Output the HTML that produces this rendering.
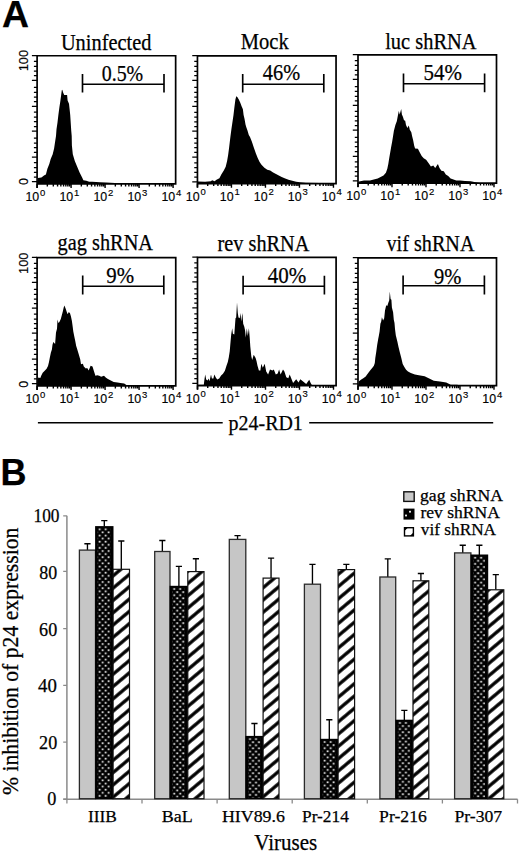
<!DOCTYPE html>
<html><head><meta charset="utf-8"><style>
html,body{margin:0;padding:0;background:#fff;}
svg{display:block;}
</style></head><body>
<svg width="520" height="852" viewBox="0 0 520 852">
<rect width="520" height="852" fill="#fff"/>
<text x="2.00" y="27.00" font-family="Liberation Sans" font-size="36" textLength="27.00" lengthAdjust="spacingAndGlyphs" font-weight="bold" stroke="#000" stroke-width="0.25" >A</text>
<text x="0.60" y="485.20" font-family="Liberation Sans" font-size="36" font-weight="bold" stroke="#000" stroke-width="0.25" >B</text>
<path d="M37.10 183.90 L37.60 181.00 L38.00 178.00 L41.40 177.50 L44.00 175.40 L45.90 174.50 L47.40 168.70 L49.30 163.90 L50.70 159.10 L52.70 154.30 L54.10 148.50 L55.10 141.80 L56.00 136.00 L56.50 129.30 L57.50 122.50 L58.40 114.80 L59.40 107.20 L60.30 101.40 L61.10 95.60 L61.80 90.30 L62.30 89.80 L63.20 92.70 L64.20 95.10 L67.10 95.10 L67.60 100.40 L69.00 103.80 L69.80 111.00 L70.20 114.80 L70.70 122.50 L71.20 130.20 L71.70 136.00 L71.90 145.60 L72.80 154.30 L74.80 161.00 L77.20 166.80 L79.60 172.50 L82.00 177.30 L83.40 180.20 L86.30 180.70 L89.20 181.70 L92.10 181.70 L100.00 182.20 L106.00 182.60 L115.00 183.00 L115.00 183.90 Z" fill="#000"/>
<path d="M37.10 187.90 L37.10 55.75 L175.65 55.75 L175.65 183.90 L37.10 183.90" fill="none" stroke="#000" stroke-width="1.7"/>
<path d="M31.90 55.50H37.10M33.90 61.40H37.10M33.90 66.30H37.10M33.90 71.20H37.10M33.90 75.60H37.10M31.90 80.30H37.10M33.90 87.40H37.10M33.90 92.30H37.10M33.90 97.10H37.10M33.90 101.60H37.10M31.90 106.25H37.10M33.90 112.20H37.10M33.90 117.10H37.10M33.90 121.70H37.10M33.90 126.50H37.10M31.90 131.05H37.10M33.90 138.20H37.10M33.90 143.00H37.10M33.90 147.50H37.10M33.90 152.40H37.10M31.90 157.10H37.10M33.90 162.70H37.10M33.90 167.60H37.10M33.90 172.40H37.10M33.90 177.00H37.10M31.90 181.70H37.10" stroke="#000" stroke-width="1.25"/>
<path d="M37.10 183.90V188.00M47.34 183.90V186.40M53.32 183.90V186.40M57.57 183.90V186.40M60.86 183.90V186.40M63.56 183.90V186.40M65.83 183.90V186.40M67.81 183.90V186.40M69.54 183.90V186.40M71.10 183.90V188.00M81.34 183.90V186.40M87.32 183.90V186.40M91.57 183.90V186.40M94.86 183.90V186.40M97.56 183.90V186.40M99.83 183.90V186.40M101.81 183.90V186.40M103.54 183.90V186.40M105.10 183.90V188.00M115.34 183.90V186.40M121.32 183.90V186.40M125.57 183.90V186.40M128.86 183.90V186.40M131.56 183.90V186.40M133.83 183.90V186.40M135.81 183.90V186.40M137.54 183.90V186.40M139.10 183.90V188.00M149.34 183.90V186.40M155.32 183.90V186.40M159.57 183.90V186.40M162.86 183.90V186.40M165.56 183.90V186.40M167.83 183.90V186.40M169.81 183.90V186.40M171.54 183.90V186.40M173.10 183.90V188.00" stroke="#000" stroke-width="1.4"/>
<text x="25.40" y="201.20" font-family="Liberation Sans" font-size="12.4" stroke="#000" stroke-width="0.15">10</text>
<text x="40.10" y="195.70" font-family="Liberation Sans" font-size="9.5" stroke="#000" stroke-width="0.15">0</text>
<text x="59.40" y="201.20" font-family="Liberation Sans" font-size="12.4" stroke="#000" stroke-width="0.15">10</text>
<text x="74.10" y="195.70" font-family="Liberation Sans" font-size="9.5" stroke="#000" stroke-width="0.15">1</text>
<text x="93.40" y="201.20" font-family="Liberation Sans" font-size="12.4" stroke="#000" stroke-width="0.15">10</text>
<text x="108.10" y="195.70" font-family="Liberation Sans" font-size="9.5" stroke="#000" stroke-width="0.15">2</text>
<text x="127.40" y="201.20" font-family="Liberation Sans" font-size="12.4" stroke="#000" stroke-width="0.15">10</text>
<text x="142.10" y="195.70" font-family="Liberation Sans" font-size="9.5" stroke="#000" stroke-width="0.15">3</text>
<text x="161.40" y="201.20" font-family="Liberation Sans" font-size="12.4" stroke="#000" stroke-width="0.15">10</text>
<text x="176.10" y="195.70" font-family="Liberation Sans" font-size="9.5" stroke="#000" stroke-width="0.15">4</text>
<text transform="translate(27.6,71.20) rotate(-90)" font-family="Liberation Sans" font-size="12.4" textLength="21.2" lengthAdjust="spacingAndGlyphs" stroke="#000" stroke-width="0.15">100</text>
<text transform="translate(27.5,185.10) rotate(-90)" font-family="Liberation Sans" font-size="12.4" stroke="#000" stroke-width="0.15">0</text>
<text x="60.90" y="49.60" font-family="Liberation Serif" font-size="22.6" textLength="90.50" lengthAdjust="spacingAndGlyphs" stroke="#000" stroke-width="0.25" >Uninfected</text>
<text x="101.70" y="80.60" font-family="Liberation Serif" font-size="23.2" textLength="41.50" lengthAdjust="spacingAndGlyphs" stroke="#000" stroke-width="0.25" >0.5%</text>
<path d="M82.5 84.3H164.0" stroke="#000" stroke-width="1.45" fill="none"/><path d="M82.5 74.0V92.5M164.0 74.0V92.5" stroke="#000" stroke-width="1.65" fill="none"/>
<path d="M197.45 183.60 L198.00 181.40 L205.00 181.70 L210.80 181.20 L212.20 180.20 L214.60 181.20 L216.50 179.80 L219.40 178.30 L221.30 174.50 L223.80 170.60 L225.70 166.80 L227.10 161.00 L228.10 155.20 L229.00 148.50 L229.80 141.80 L230.50 136.00 L231.50 128.40 L232.50 121.70 L233.50 114.90 L234.40 107.20 L235.40 99.50 L236.30 96.20 L237.30 97.10 L238.80 99.50 L240.20 102.40 L241.60 106.30 L242.90 109.20 L243.60 114.90 L244.50 118.80 L245.50 124.50 L246.40 127.40 L247.40 130.30 L248.80 135.10 L250.00 137.00 L251.90 141.80 L253.80 147.50 L255.80 153.30 L257.70 158.10 L259.60 162.00 L261.50 164.80 L264.40 167.70 L267.30 169.70 L270.20 170.60 L273.10 172.50 L276.00 174.00 L278.80 175.40 L281.70 176.90 L284.60 178.30 L288.50 179.80 L292.30 180.70 L296.20 181.70 L300.00 182.20 L306.00 182.70 L320.00 183.00 L320.00 183.60 Z" fill="#000"/>
<path d="M197.45 187.60 L197.45 55.80 L336.05 55.80 L336.05 183.60 L197.45 183.60" fill="none" stroke="#000" stroke-width="1.7"/>
<path d="M192.25 55.55H197.45M194.25 61.45H197.45M194.25 66.35H197.45M194.25 71.25H197.45M194.25 75.65H197.45M192.25 80.35H197.45M194.25 87.45H197.45M194.25 92.35H197.45M194.25 97.15H197.45M194.25 101.65H197.45M192.25 106.30H197.45M194.25 112.25H197.45M194.25 117.15H197.45M194.25 121.75H197.45M194.25 126.55H197.45M192.25 131.10H197.45M194.25 138.25H197.45M194.25 143.05H197.45M194.25 147.55H197.45M194.25 152.45H197.45M192.25 157.15H197.45M194.25 162.75H197.45M194.25 167.65H197.45M194.25 172.45H197.45M194.25 177.05H197.45M192.25 181.75H197.45" stroke="#000" stroke-width="1.25"/>
<path d="M197.45 183.60V187.70M207.69 183.60V186.10M213.67 183.60V186.10M217.92 183.60V186.10M221.21 183.60V186.10M223.91 183.60V186.10M226.18 183.60V186.10M228.16 183.60V186.10M229.89 183.60V186.10M231.45 183.60V187.70M241.69 183.60V186.10M247.67 183.60V186.10M251.92 183.60V186.10M255.21 183.60V186.10M257.91 183.60V186.10M260.18 183.60V186.10M262.16 183.60V186.10M263.89 183.60V186.10M265.45 183.60V187.70M275.69 183.60V186.10M281.67 183.60V186.10M285.92 183.60V186.10M289.21 183.60V186.10M291.91 183.60V186.10M294.18 183.60V186.10M296.16 183.60V186.10M297.89 183.60V186.10M299.45 183.60V187.70M309.69 183.60V186.10M315.67 183.60V186.10M319.92 183.60V186.10M323.21 183.60V186.10M325.91 183.60V186.10M328.18 183.60V186.10M330.16 183.60V186.10M331.89 183.60V186.10M333.45 183.60V187.70" stroke="#000" stroke-width="1.4"/>
<text x="185.75" y="200.90" font-family="Liberation Sans" font-size="12.4" stroke="#000" stroke-width="0.15">10</text>
<text x="200.45" y="195.40" font-family="Liberation Sans" font-size="9.5" stroke="#000" stroke-width="0.15">0</text>
<text x="219.75" y="200.90" font-family="Liberation Sans" font-size="12.4" stroke="#000" stroke-width="0.15">10</text>
<text x="234.45" y="195.40" font-family="Liberation Sans" font-size="9.5" stroke="#000" stroke-width="0.15">1</text>
<text x="253.75" y="200.90" font-family="Liberation Sans" font-size="12.4" stroke="#000" stroke-width="0.15">10</text>
<text x="268.45" y="195.40" font-family="Liberation Sans" font-size="9.5" stroke="#000" stroke-width="0.15">2</text>
<text x="287.75" y="200.90" font-family="Liberation Sans" font-size="12.4" stroke="#000" stroke-width="0.15">10</text>
<text x="302.45" y="195.40" font-family="Liberation Sans" font-size="9.5" stroke="#000" stroke-width="0.15">3</text>
<text x="321.75" y="200.90" font-family="Liberation Sans" font-size="12.4" stroke="#000" stroke-width="0.15">10</text>
<text x="336.45" y="195.40" font-family="Liberation Sans" font-size="9.5" stroke="#000" stroke-width="0.15">4</text>
<text x="240.80" y="49.00" font-family="Liberation Serif" font-size="22.6" textLength="47.90" lengthAdjust="spacingAndGlyphs" stroke="#000" stroke-width="0.25" >Mock</text>
<text x="262.80" y="80.00" font-family="Liberation Serif" font-size="23.2" textLength="37.30" lengthAdjust="spacingAndGlyphs" stroke="#000" stroke-width="0.25" >46%</text>
<path d="M242.7 84.3H323.8" stroke="#000" stroke-width="1.45" fill="none"/><path d="M242.7 74.0V92.5M323.8 74.0V92.5" stroke="#000" stroke-width="1.65" fill="none"/>
<path d="M358.00 183.10 L359.00 181.50 L364.00 180.60 L370.00 180.40 L373.80 179.40 L377.70 178.50 L380.60 177.00 L383.50 175.60 L385.90 172.70 L387.30 168.80 L388.30 164.00 L389.20 158.30 L390.20 152.50 L391.20 146.70 L392.10 141.90 L393.00 136.50 L393.90 130.80 L395.40 125.00 L396.80 121.20 L397.80 115.90 L398.80 111.10 L399.70 114.40 L401.20 109.10 L401.90 114.40 L402.90 116.80 L404.00 120.20 L405.20 120.70 L406.00 125.00 L407.40 127.90 L408.80 125.50 L409.80 129.80 L411.30 132.20 L412.20 136.50 L413.20 140.40 L414.20 145.80 L415.10 148.40 L417.90 148.70 L419.80 152.50 L421.70 155.90 L423.70 158.30 L426.10 159.70 L428.50 163.10 L430.90 166.40 L433.30 165.50 L435.20 167.90 L437.90 164.00 L439.50 167.90 L441.40 170.80 L443.80 171.30 L445.80 174.60 L448.20 176.10 L450.60 178.50 L453.50 179.40 L456.30 180.40 L460.20 180.40 L465.00 180.90 L470.80 181.20 L475.40 182.20 L480.00 183.00 L480.00 183.10 Z" fill="#000"/>
<path d="M358.00 187.10 L358.00 54.90 L496.50 54.90 L496.50 183.10 L358.00 183.10" fill="none" stroke="#000" stroke-width="1.7"/>
<path d="M352.80 54.65H358.00M354.80 60.55H358.00M354.80 65.45H358.00M354.80 70.35H358.00M354.80 74.75H358.00M352.80 79.45H358.00M354.80 86.55H358.00M354.80 91.45H358.00M354.80 96.25H358.00M354.80 100.75H358.00M352.80 105.40H358.00M354.80 111.35H358.00M354.80 116.25H358.00M354.80 120.85H358.00M354.80 125.65H358.00M352.80 130.20H358.00M354.80 137.35H358.00M354.80 142.15H358.00M354.80 146.65H358.00M354.80 151.55H358.00M352.80 156.25H358.00M354.80 161.85H358.00M354.80 166.75H358.00M354.80 171.55H358.00M354.80 176.15H358.00M352.80 180.85H358.00" stroke="#000" stroke-width="1.25"/>
<path d="M358.00 183.10V187.20M368.24 183.10V185.60M374.22 183.10V185.60M378.47 183.10V185.60M381.76 183.10V185.60M384.46 183.10V185.60M386.73 183.10V185.60M388.71 183.10V185.60M390.44 183.10V185.60M392.00 183.10V187.20M402.24 183.10V185.60M408.22 183.10V185.60M412.47 183.10V185.60M415.76 183.10V185.60M418.46 183.10V185.60M420.73 183.10V185.60M422.71 183.10V185.60M424.44 183.10V185.60M426.00 183.10V187.20M436.24 183.10V185.60M442.22 183.10V185.60M446.47 183.10V185.60M449.76 183.10V185.60M452.46 183.10V185.60M454.73 183.10V185.60M456.71 183.10V185.60M458.44 183.10V185.60M460.00 183.10V187.20M470.24 183.10V185.60M476.22 183.10V185.60M480.47 183.10V185.60M483.76 183.10V185.60M486.46 183.10V185.60M488.73 183.10V185.60M490.71 183.10V185.60M492.44 183.10V185.60M494.00 183.10V187.20" stroke="#000" stroke-width="1.4"/>
<text x="346.30" y="200.40" font-family="Liberation Sans" font-size="12.4" stroke="#000" stroke-width="0.15">10</text>
<text x="361.00" y="194.90" font-family="Liberation Sans" font-size="9.5" stroke="#000" stroke-width="0.15">0</text>
<text x="380.30" y="200.40" font-family="Liberation Sans" font-size="12.4" stroke="#000" stroke-width="0.15">10</text>
<text x="395.00" y="194.90" font-family="Liberation Sans" font-size="9.5" stroke="#000" stroke-width="0.15">1</text>
<text x="414.30" y="200.40" font-family="Liberation Sans" font-size="12.4" stroke="#000" stroke-width="0.15">10</text>
<text x="429.00" y="194.90" font-family="Liberation Sans" font-size="9.5" stroke="#000" stroke-width="0.15">2</text>
<text x="448.30" y="200.40" font-family="Liberation Sans" font-size="12.4" stroke="#000" stroke-width="0.15">10</text>
<text x="463.00" y="194.90" font-family="Liberation Sans" font-size="9.5" stroke="#000" stroke-width="0.15">3</text>
<text x="482.30" y="200.40" font-family="Liberation Sans" font-size="12.4" stroke="#000" stroke-width="0.15">10</text>
<text x="497.00" y="194.90" font-family="Liberation Sans" font-size="9.5" stroke="#000" stroke-width="0.15">4</text>
<text x="385.20" y="49.40" font-family="Liberation Serif" font-size="22.6" textLength="91.30" lengthAdjust="spacingAndGlyphs" stroke="#000" stroke-width="0.25" >luc shRNA</text>
<text x="423.60" y="80.20" font-family="Liberation Serif" font-size="23.2" textLength="38.40" lengthAdjust="spacingAndGlyphs" stroke="#000" stroke-width="0.25" >54%</text>
<path d="M403.5 83.8H484.6" stroke="#000" stroke-width="1.45" fill="none"/><path d="M403.5 73.6V92.3M484.6 73.6V92.3" stroke="#000" stroke-width="1.65" fill="none"/>
<path d="M37.10 385.90 L38.00 378.50 L38.40 377.50 L40.30 378.00 L41.30 375.60 L42.70 372.70 L44.70 370.80 L46.60 368.80 L48.00 366.00 L49.00 362.10 L49.90 357.30 L50.90 352.50 L51.90 349.60 L52.50 344.80 L53.30 341.90 L53.60 342.20 L55.10 344.10 L56.00 332.50 L57.00 328.70 L57.50 319.60 L58.40 322.90 L59.40 322.00 L60.80 319.10 L61.80 315.20 L62.80 311.40 L63.70 307.50 L64.40 305.60 L65.60 308.50 L66.60 311.40 L67.60 314.30 L68.80 311.90 L70.00 313.30 L70.90 316.20 L71.90 321.00 L72.70 326.80 L73.30 331.60 L74.30 336.40 L75.30 341.20 L76.20 346.00 L77.30 349.60 L78.80 354.40 L80.20 359.20 L81.00 364.20 L82.90 363.80 L83.80 366.60 L85.80 368.60 L87.20 368.10 L88.70 370.50 L90.60 365.70 L92.50 366.60 L93.90 371.00 L95.40 375.80 L97.30 375.30 L99.20 375.80 L101.20 376.70 L104.00 375.80 L106.00 377.70 L107.90 379.10 L110.80 380.60 L113.70 382.00 L117.50 382.50 L120.40 383.00 L124.20 383.50 L127.10 385.40 L127.10 385.90 Z" fill="#000"/>
<path d="M37.10 389.90 L37.10 257.70 L175.75 257.70 L175.75 385.90 L37.10 385.90" fill="none" stroke="#000" stroke-width="1.7"/>
<path d="M31.90 257.45H37.10M33.90 263.35H37.10M33.90 268.25H37.10M33.90 273.15H37.10M33.90 277.55H37.10M31.90 282.25H37.10M33.90 289.35H37.10M33.90 294.25H37.10M33.90 299.05H37.10M33.90 303.55H37.10M31.90 308.20H37.10M33.90 314.15H37.10M33.90 319.05H37.10M33.90 323.65H37.10M33.90 328.45H37.10M31.90 333.00H37.10M33.90 340.15H37.10M33.90 344.95H37.10M33.90 349.45H37.10M33.90 354.35H37.10M31.90 359.05H37.10M33.90 364.65H37.10M33.90 369.55H37.10M33.90 374.35H37.10M33.90 378.95H37.10M31.90 383.65H37.10" stroke="#000" stroke-width="1.25"/>
<path d="M37.10 385.90V390.00M47.34 385.90V388.40M53.32 385.90V388.40M57.57 385.90V388.40M60.86 385.90V388.40M63.56 385.90V388.40M65.83 385.90V388.40M67.81 385.90V388.40M69.54 385.90V388.40M71.10 385.90V390.00M81.34 385.90V388.40M87.32 385.90V388.40M91.57 385.90V388.40M94.86 385.90V388.40M97.56 385.90V388.40M99.83 385.90V388.40M101.81 385.90V388.40M103.54 385.90V388.40M105.10 385.90V390.00M115.34 385.90V388.40M121.32 385.90V388.40M125.57 385.90V388.40M128.86 385.90V388.40M131.56 385.90V388.40M133.83 385.90V388.40M135.81 385.90V388.40M137.54 385.90V388.40M139.10 385.90V390.00M149.34 385.90V388.40M155.32 385.90V388.40M159.57 385.90V388.40M162.86 385.90V388.40M165.56 385.90V388.40M167.83 385.90V388.40M169.81 385.90V388.40M171.54 385.90V388.40M173.10 385.90V390.00" stroke="#000" stroke-width="1.4"/>
<text x="25.40" y="403.20" font-family="Liberation Sans" font-size="12.4" stroke="#000" stroke-width="0.15">10</text>
<text x="40.10" y="397.70" font-family="Liberation Sans" font-size="9.5" stroke="#000" stroke-width="0.15">0</text>
<text x="59.40" y="403.20" font-family="Liberation Sans" font-size="12.4" stroke="#000" stroke-width="0.15">10</text>
<text x="74.10" y="397.70" font-family="Liberation Sans" font-size="9.5" stroke="#000" stroke-width="0.15">1</text>
<text x="93.40" y="403.20" font-family="Liberation Sans" font-size="12.4" stroke="#000" stroke-width="0.15">10</text>
<text x="108.10" y="397.70" font-family="Liberation Sans" font-size="9.5" stroke="#000" stroke-width="0.15">2</text>
<text x="127.40" y="403.20" font-family="Liberation Sans" font-size="12.4" stroke="#000" stroke-width="0.15">10</text>
<text x="142.10" y="397.70" font-family="Liberation Sans" font-size="9.5" stroke="#000" stroke-width="0.15">3</text>
<text x="161.40" y="403.20" font-family="Liberation Sans" font-size="12.4" stroke="#000" stroke-width="0.15">10</text>
<text x="176.10" y="397.70" font-family="Liberation Sans" font-size="9.5" stroke="#000" stroke-width="0.15">4</text>
<text transform="translate(27.6,273.90) rotate(-90)" font-family="Liberation Sans" font-size="12.4" textLength="21.2" lengthAdjust="spacingAndGlyphs" stroke="#000" stroke-width="0.15">100</text>
<text transform="translate(27.5,387.80) rotate(-90)" font-family="Liberation Sans" font-size="12.4" stroke="#000" stroke-width="0.15">0</text>
<text x="57.60" y="250.40" font-family="Liberation Serif" font-size="22.6" textLength="95.40" lengthAdjust="spacingAndGlyphs" stroke="#000" stroke-width="0.25" >gag shRNA</text>
<text x="106.30" y="283.40" font-family="Liberation Serif" font-size="23.2" textLength="27.80" lengthAdjust="spacingAndGlyphs" stroke="#000" stroke-width="0.25" >9%</text>
<path d="M82.7 286.2H163.8" stroke="#000" stroke-width="1.45" fill="none"/><path d="M82.7 275.6V294.6M163.8 275.6V294.6" stroke="#000" stroke-width="1.65" fill="none"/>
<path d="M197.50 385.60 L198.00 384.70 L203.80 384.70 L204.30 380.40 L205.20 374.60 L206.20 379.40 L207.60 380.40 L208.60 378.50 L209.50 381.30 L211.00 374.60 L211.90 378.50 L213.40 378.50 L214.30 374.60 L215.80 377.50 L217.20 379.40 L219.20 378.50 L221.10 375.60 L223.00 373.70 L224.90 370.80 L226.40 366.00 L227.80 362.10 L228.80 357.30 L229.70 351.50 L230.20 345.80 L230.50 342.20 L231.20 334.50 L232.20 328.30 L232.90 333.70 L234.30 334.50 L235.50 318.30 L236.20 317.50 L237.00 302.50 L237.80 312.90 L238.50 317.50 L239.70 318.30 L240.50 312.90 L241.20 321.40 L242.40 312.90 L243.20 323.70 L244.30 326.80 L245.10 330.60 L245.80 337.50 L246.80 328.30 L247.80 336.00 L248.90 328.30 L249.70 337.50 L250.30 346.50 L251.30 356.20 L252.20 360.00 L253.70 354.70 L254.60 356.20 L255.60 358.10 L256.50 361.00 L257.50 365.80 L258.90 370.60 L260.40 370.60 L261.30 363.80 L262.80 367.70 L264.70 363.80 L266.20 371.50 L268.10 374.40 L270.00 369.60 L272.40 370.60 L273.80 369.60 L275.80 374.40 L277.70 373.50 L279.10 369.60 L280.60 374.40 L283.00 369.60 L284.40 371.50 L286.30 377.30 L288.30 378.30 L289.70 374.40 L291.20 378.30 L293.10 383.10 L296.20 379.30 L298.50 382.40 L300.30 379.30 L303.10 381.60 L306.20 383.90 L309.20 379.80 L310.80 383.20 L312.00 385.20 L312.00 385.60 Z" fill="#000"/>
<path d="M197.50 389.60 L197.50 257.30 L336.10 257.30 L336.10 385.60 L197.50 385.60" fill="none" stroke="#000" stroke-width="1.7"/>
<path d="M192.30 257.05H197.50M194.30 262.95H197.50M194.30 267.85H197.50M194.30 272.75H197.50M194.30 277.15H197.50M192.30 281.85H197.50M194.30 288.95H197.50M194.30 293.85H197.50M194.30 298.65H197.50M194.30 303.15H197.50M192.30 307.80H197.50M194.30 313.75H197.50M194.30 318.65H197.50M194.30 323.25H197.50M194.30 328.05H197.50M192.30 332.60H197.50M194.30 339.75H197.50M194.30 344.55H197.50M194.30 349.05H197.50M194.30 353.95H197.50M192.30 358.65H197.50M194.30 364.25H197.50M194.30 369.15H197.50M194.30 373.95H197.50M194.30 378.55H197.50M192.30 383.25H197.50" stroke="#000" stroke-width="1.25"/>
<path d="M197.50 385.60V389.70M207.74 385.60V388.10M213.72 385.60V388.10M217.97 385.60V388.10M221.26 385.60V388.10M223.96 385.60V388.10M226.23 385.60V388.10M228.21 385.60V388.10M229.94 385.60V388.10M231.50 385.60V389.70M241.74 385.60V388.10M247.72 385.60V388.10M251.97 385.60V388.10M255.26 385.60V388.10M257.96 385.60V388.10M260.23 385.60V388.10M262.21 385.60V388.10M263.94 385.60V388.10M265.50 385.60V389.70M275.74 385.60V388.10M281.72 385.60V388.10M285.97 385.60V388.10M289.26 385.60V388.10M291.96 385.60V388.10M294.23 385.60V388.10M296.21 385.60V388.10M297.94 385.60V388.10M299.50 385.60V389.70M309.74 385.60V388.10M315.72 385.60V388.10M319.97 385.60V388.10M323.26 385.60V388.10M325.96 385.60V388.10M328.23 385.60V388.10M330.21 385.60V388.10M331.94 385.60V388.10M333.50 385.60V389.70" stroke="#000" stroke-width="1.4"/>
<text x="185.80" y="402.90" font-family="Liberation Sans" font-size="12.4" stroke="#000" stroke-width="0.15">10</text>
<text x="200.50" y="397.40" font-family="Liberation Sans" font-size="9.5" stroke="#000" stroke-width="0.15">0</text>
<text x="219.80" y="402.90" font-family="Liberation Sans" font-size="12.4" stroke="#000" stroke-width="0.15">10</text>
<text x="234.50" y="397.40" font-family="Liberation Sans" font-size="9.5" stroke="#000" stroke-width="0.15">1</text>
<text x="253.80" y="402.90" font-family="Liberation Sans" font-size="12.4" stroke="#000" stroke-width="0.15">10</text>
<text x="268.50" y="397.40" font-family="Liberation Sans" font-size="9.5" stroke="#000" stroke-width="0.15">2</text>
<text x="287.80" y="402.90" font-family="Liberation Sans" font-size="12.4" stroke="#000" stroke-width="0.15">10</text>
<text x="302.50" y="397.40" font-family="Liberation Sans" font-size="9.5" stroke="#000" stroke-width="0.15">3</text>
<text x="321.80" y="402.90" font-family="Liberation Sans" font-size="12.4" stroke="#000" stroke-width="0.15">10</text>
<text x="336.50" y="397.40" font-family="Liberation Sans" font-size="9.5" stroke="#000" stroke-width="0.15">4</text>
<text x="217.60" y="250.60" font-family="Liberation Serif" font-size="22.6" textLength="91.80" lengthAdjust="spacingAndGlyphs" stroke="#000" stroke-width="0.25" >rev shRNA</text>
<text x="267.70" y="283.20" font-family="Liberation Serif" font-size="23.2" textLength="38.50" lengthAdjust="spacingAndGlyphs" stroke="#000" stroke-width="0.25" >40%</text>
<path d="M243.1 286.2H324.4" stroke="#000" stroke-width="1.45" fill="none"/><path d="M243.1 275.8V294.6M324.4 275.8V294.6" stroke="#000" stroke-width="1.65" fill="none"/>
<path d="M358.00 385.70 L359.00 381.20 L360.90 379.80 L363.30 378.30 L365.70 376.40 L367.10 374.50 L368.60 372.50 L370.50 370.10 L372.40 367.70 L373.90 365.80 L374.80 362.90 L375.30 358.10 L376.30 351.40 L377.20 344.70 L378.20 338.90 L378.80 336.00 L379.60 331.40 L380.40 323.70 L381.20 321.40 L381.90 317.20 L383.10 320.60 L384.20 318.30 L385.00 310.60 L386.20 305.20 L387.30 306.00 L388.50 302.20 L389.20 300.60 L389.80 291.40 L390.60 299.10 L391.40 299.80 L391.90 307.50 L393.10 312.20 L393.80 319.80 L394.50 322.90 L395.00 329.10 L395.80 335.20 L397.40 341.80 L398.40 346.60 L399.80 352.30 L401.30 358.10 L402.70 363.90 L404.20 366.80 L406.10 369.70 L408.00 371.60 L410.80 373.10 L414.90 374.50 L418.90 375.20 L424.60 376.20 L429.20 378.50 L433.80 380.80 L440.00 381.60 L446.20 382.40 L450.80 384.70 L456.90 384.70 L460.00 385.20 L460.00 385.70 Z" fill="#000"/>
<path d="M358.00 389.70 L358.00 257.80 L496.50 257.80 L496.50 385.70 L358.00 385.70" fill="none" stroke="#000" stroke-width="1.7"/>
<path d="M352.80 257.55H358.00M354.80 263.45H358.00M354.80 268.35H358.00M354.80 273.25H358.00M354.80 277.65H358.00M352.80 282.35H358.00M354.80 289.45H358.00M354.80 294.35H358.00M354.80 299.15H358.00M354.80 303.65H358.00M352.80 308.30H358.00M354.80 314.25H358.00M354.80 319.15H358.00M354.80 323.75H358.00M354.80 328.55H358.00M352.80 333.10H358.00M354.80 340.25H358.00M354.80 345.05H358.00M354.80 349.55H358.00M354.80 354.45H358.00M352.80 359.15H358.00M354.80 364.75H358.00M354.80 369.65H358.00M354.80 374.45H358.00M354.80 379.05H358.00M352.80 383.75H358.00" stroke="#000" stroke-width="1.25"/>
<path d="M358.00 385.70V389.80M368.24 385.70V388.20M374.22 385.70V388.20M378.47 385.70V388.20M381.76 385.70V388.20M384.46 385.70V388.20M386.73 385.70V388.20M388.71 385.70V388.20M390.44 385.70V388.20M392.00 385.70V389.80M402.24 385.70V388.20M408.22 385.70V388.20M412.47 385.70V388.20M415.76 385.70V388.20M418.46 385.70V388.20M420.73 385.70V388.20M422.71 385.70V388.20M424.44 385.70V388.20M426.00 385.70V389.80M436.24 385.70V388.20M442.22 385.70V388.20M446.47 385.70V388.20M449.76 385.70V388.20M452.46 385.70V388.20M454.73 385.70V388.20M456.71 385.70V388.20M458.44 385.70V388.20M460.00 385.70V389.80M470.24 385.70V388.20M476.22 385.70V388.20M480.47 385.70V388.20M483.76 385.70V388.20M486.46 385.70V388.20M488.73 385.70V388.20M490.71 385.70V388.20M492.44 385.70V388.20M494.00 385.70V389.80" stroke="#000" stroke-width="1.4"/>
<text x="346.30" y="403.00" font-family="Liberation Sans" font-size="12.4" stroke="#000" stroke-width="0.15">10</text>
<text x="361.00" y="397.50" font-family="Liberation Sans" font-size="9.5" stroke="#000" stroke-width="0.15">0</text>
<text x="380.30" y="403.00" font-family="Liberation Sans" font-size="12.4" stroke="#000" stroke-width="0.15">10</text>
<text x="395.00" y="397.50" font-family="Liberation Sans" font-size="9.5" stroke="#000" stroke-width="0.15">1</text>
<text x="414.30" y="403.00" font-family="Liberation Sans" font-size="12.4" stroke="#000" stroke-width="0.15">10</text>
<text x="429.00" y="397.50" font-family="Liberation Sans" font-size="9.5" stroke="#000" stroke-width="0.15">2</text>
<text x="448.30" y="403.00" font-family="Liberation Sans" font-size="12.4" stroke="#000" stroke-width="0.15">10</text>
<text x="463.00" y="397.50" font-family="Liberation Sans" font-size="9.5" stroke="#000" stroke-width="0.15">3</text>
<text x="482.30" y="403.00" font-family="Liberation Sans" font-size="12.4" stroke="#000" stroke-width="0.15">10</text>
<text x="497.00" y="397.50" font-family="Liberation Sans" font-size="9.5" stroke="#000" stroke-width="0.15">4</text>
<text x="386.50" y="250.60" font-family="Liberation Serif" font-size="22.6" textLength="88.00" lengthAdjust="spacingAndGlyphs" stroke="#000" stroke-width="0.25" >vif shRNA</text>
<text x="434.00" y="283.50" font-family="Liberation Serif" font-size="23.2" textLength="27.40" lengthAdjust="spacingAndGlyphs" stroke="#000" stroke-width="0.25" >9%</text>
<path d="M403.1 285.8H484.4" stroke="#000" stroke-width="1.45" fill="none"/><path d="M403.1 275.6V294.6M484.4 275.6V294.6" stroke="#000" stroke-width="1.65" fill="none"/>
<path d="M37.9 422.7H222.7M309.2 422.7H493.2" stroke="#000" stroke-width="1.4"/>
<text x="228.60" y="430.00" font-family="Liberation Serif" font-size="22" textLength="74.20" lengthAdjust="spacingAndGlyphs" stroke="#000" stroke-width="0.25" >p24-RD1</text>
<path d="M66.9 515.8V799.2M63.3 799.2H517.6" stroke="#8a8a8a" stroke-width="1.5" fill="none"/>
<path d="M63.2 799.20H66.9M63.2 742.10H66.9M63.2 685.40H66.9M63.2 628.70H66.9M63.2 571.40H66.9M63.2 515.80H66.9M66.90 799.2V803.4M142.00 799.2V803.4M217.10 799.2V803.4M292.20 799.2V803.4M367.30 799.2V803.4M442.40 799.2V803.4M517.50 799.2V803.4" stroke="#8a8a8a" stroke-width="1.3"/>
<text x="33.50" y="522.10" font-family="Liberation Serif" font-size="18.5" textLength="26.00" lengthAdjust="spacingAndGlyphs" stroke="#000" stroke-width="0.25" >100</text>
<text x="39.30" y="578.60" font-family="Liberation Serif" font-size="18.5" textLength="17.90" lengthAdjust="spacingAndGlyphs" stroke="#000" stroke-width="0.25" >80</text>
<text x="39.10" y="636.30" font-family="Liberation Serif" font-size="18.5" textLength="18.10" lengthAdjust="spacingAndGlyphs" stroke="#000" stroke-width="0.25" >60</text>
<text x="38.00" y="692.10" font-family="Liberation Serif" font-size="18.5" textLength="18.80" lengthAdjust="spacingAndGlyphs" stroke="#000" stroke-width="0.25" >40</text>
<text x="39.10" y="748.60" font-family="Liberation Serif" font-size="18.5" textLength="18.10" lengthAdjust="spacingAndGlyphs" stroke="#000" stroke-width="0.25" >20</text>
<text x="47.20" y="805.40" font-family="Liberation Serif" font-size="18.5" textLength="9.10" lengthAdjust="spacingAndGlyphs" stroke="#000" stroke-width="0.25" >0</text>
<path d="M87.45 550.10V543.70M84.35 543.70H90.55" stroke="#000" stroke-width="1.35"/>
<path d="M104.30 526.60V520.60M101.20 520.60H107.40" stroke="#000" stroke-width="1.35"/>
<path d="M121.30 569.30V541.00M118.20 541.00H124.40" stroke="#000" stroke-width="1.35"/>
<defs><pattern id="dIIIB" patternUnits="userSpaceOnUse" width="6.0" height="6.2" x="98.25" y="527.75"><rect width="6.0" height="6.2" fill="#000"/><rect x="0.6" y="0.7" width="1.7" height="1.7" fill="#fff"/><rect x="3.6" y="3.8" width="1.7" height="1.7" fill="#fff"/></pattern><pattern id="hIIIB" patternUnits="userSpaceOnUse" width="9.42" height="9.42" patternTransform="translate(113.10,575.80) rotate(-40)"><rect width="9.42" height="9.42" fill="#fff"/><rect y="0" width="9.42" height="1.65" fill="#000"/><rect y="7.77" width="9.42" height="1.65" fill="#000"/></pattern></defs>
<rect x="79.40" y="550.10" width="16.10" height="248.60" fill="#c6c6c6" stroke="#2a2a2a" stroke-width="1.3"/>
<rect x="95.10" y="526.10" width="18.40" height="273.10" fill="#000"/>
<rect x="97.70" y="528.00" width="12.60" height="269.50" fill="url(#dIIIB)"/>
<rect x="113.10" y="569.30" width="16.40" height="229.40" fill="url(#hIIIB)" stroke="#111" stroke-width="1.2"/>
<path d="M162.35 551.50V540.50M159.25 540.50H165.45" stroke="#000" stroke-width="1.35"/>
<path d="M178.90 586.30V566.40M175.80 566.40H182.00" stroke="#000" stroke-width="1.35"/>
<path d="M195.90 571.60V558.70M192.80 558.70H199.00" stroke="#000" stroke-width="1.35"/>
<defs><pattern id="dBaL" patternUnits="userSpaceOnUse" width="6.0" height="6.2" x="172.75" y="587.45"><rect width="6.0" height="6.2" fill="#000"/><rect x="0.6" y="0.7" width="1.7" height="1.7" fill="#fff"/><rect x="3.6" y="3.8" width="1.7" height="1.7" fill="#fff"/></pattern><pattern id="hBaL" patternUnits="userSpaceOnUse" width="9.42" height="9.42" patternTransform="translate(187.80,583.50) rotate(-40)"><rect width="9.42" height="9.42" fill="#fff"/><rect y="0" width="9.42" height="1.65" fill="#000"/><rect y="7.77" width="9.42" height="1.65" fill="#000"/></pattern></defs>
<rect x="154.70" y="551.50" width="15.30" height="247.20" fill="#c6c6c6" stroke="#2a2a2a" stroke-width="1.3"/>
<rect x="169.60" y="585.80" width="18.60" height="213.40" fill="#000"/>
<rect x="172.20" y="587.70" width="12.80" height="209.80" fill="url(#dBaL)"/>
<rect x="187.80" y="571.60" width="16.20" height="227.10" fill="url(#hBaL)" stroke="#111" stroke-width="1.2"/>
<path d="M237.55 539.40V535.60M234.45 535.60H240.65" stroke="#000" stroke-width="1.35"/>
<path d="M254.45 736.40V723.50M251.35 723.50H257.55" stroke="#000" stroke-width="1.35"/>
<path d="M271.05 578.10V558.10M267.95 558.10H274.15" stroke="#000" stroke-width="1.35"/>
<defs><pattern id="dHIV896" patternUnits="userSpaceOnUse" width="6.0" height="6.2" x="248.55" y="737.55"><rect width="6.0" height="6.2" fill="#000"/><rect x="0.6" y="0.7" width="1.7" height="1.7" fill="#fff"/><rect x="3.6" y="3.8" width="1.7" height="1.7" fill="#fff"/></pattern><pattern id="hHIV896" patternUnits="userSpaceOnUse" width="9.42" height="9.42" patternTransform="translate(263.10,636.90) rotate(-40)"><rect width="9.42" height="9.42" fill="#fff"/><rect y="0" width="9.42" height="1.65" fill="#000"/><rect y="7.77" width="9.42" height="1.65" fill="#000"/></pattern></defs>
<rect x="229.30" y="539.40" width="16.50" height="259.30" fill="#c6c6c6" stroke="#2a2a2a" stroke-width="1.3"/>
<rect x="245.40" y="735.90" width="18.10" height="63.30" fill="#000"/>
<rect x="248.00" y="737.80" width="12.30" height="59.70" fill="url(#dHIV896)"/>
<rect x="263.10" y="578.10" width="15.90" height="220.60" fill="url(#hHIV896)" stroke="#111" stroke-width="1.2"/>
<path d="M312.45 584.20V564.40M309.35 564.40H315.55" stroke="#000" stroke-width="1.35"/>
<path d="M329.30 739.30V719.70M326.20 719.70H332.40" stroke="#000" stroke-width="1.35"/>
<path d="M346.35 569.60V564.40M343.25 564.40H349.45" stroke="#000" stroke-width="1.35"/>
<defs><pattern id="dPr214" patternUnits="userSpaceOnUse" width="6.0" height="6.2" x="323.25" y="740.45"><rect width="6.0" height="6.2" fill="#000"/><rect x="0.6" y="0.7" width="1.7" height="1.7" fill="#fff"/><rect x="3.6" y="3.8" width="1.7" height="1.7" fill="#fff"/></pattern><pattern id="hPr214" patternUnits="userSpaceOnUse" width="9.42" height="9.42" patternTransform="translate(338.10,574.40) rotate(-40)"><rect width="9.42" height="9.42" fill="#fff"/><rect y="0" width="9.42" height="1.65" fill="#000"/><rect y="7.77" width="9.42" height="1.65" fill="#000"/></pattern></defs>
<rect x="304.40" y="584.20" width="16.10" height="214.50" fill="#c6c6c6" stroke="#2a2a2a" stroke-width="1.3"/>
<rect x="320.10" y="738.80" width="18.40" height="60.40" fill="#000"/>
<rect x="322.70" y="740.70" width="12.60" height="56.80" fill="url(#dPr214)"/>
<rect x="338.10" y="569.60" width="16.50" height="229.10" fill="url(#hPr214)" stroke="#111" stroke-width="1.2"/>
<path d="M387.80 577.00V558.80M384.70 558.80H390.90" stroke="#000" stroke-width="1.35"/>
<path d="M404.35 720.20V710.30M401.25 710.30H407.45" stroke="#000" stroke-width="1.35"/>
<path d="M420.90 580.80V573.50M417.80 573.50H424.00" stroke="#000" stroke-width="1.35"/>
<defs><pattern id="dPr216" patternUnits="userSpaceOnUse" width="6.0" height="6.2" x="398.45" y="721.35"><rect width="6.0" height="6.2" fill="#000"/><rect x="0.6" y="0.7" width="1.7" height="1.7" fill="#fff"/><rect x="3.6" y="3.8" width="1.7" height="1.7" fill="#fff"/></pattern><pattern id="hPr216" patternUnits="userSpaceOnUse" width="9.42" height="9.42" patternTransform="translate(413.00,591.90) rotate(-40)"><rect width="9.42" height="9.42" fill="#fff"/><rect y="0" width="9.42" height="1.65" fill="#000"/><rect y="7.77" width="9.42" height="1.65" fill="#000"/></pattern></defs>
<rect x="379.90" y="577.00" width="15.80" height="221.70" fill="#c6c6c6" stroke="#2a2a2a" stroke-width="1.3"/>
<rect x="395.30" y="719.70" width="18.10" height="79.50" fill="#000"/>
<rect x="397.90" y="721.60" width="12.30" height="75.90" fill="url(#dPr216)"/>
<rect x="413.00" y="580.80" width="15.80" height="217.90" fill="url(#hPr216)" stroke="#111" stroke-width="1.2"/>
<path d="M462.75 552.90V545.20M459.65 545.20H465.85" stroke="#000" stroke-width="1.35"/>
<path d="M479.35 555.00V545.20M476.25 545.20H482.45" stroke="#000" stroke-width="1.35"/>
<path d="M495.80 589.80V574.60M492.70 574.60H498.90" stroke="#000" stroke-width="1.35"/>
<defs><pattern id="dPr307" patternUnits="userSpaceOnUse" width="6.0" height="6.2" x="473.65" y="556.15"><rect width="6.0" height="6.2" fill="#000"/><rect x="0.6" y="0.7" width="1.7" height="1.7" fill="#fff"/><rect x="3.6" y="3.8" width="1.7" height="1.7" fill="#fff"/></pattern><pattern id="hPr307" patternUnits="userSpaceOnUse" width="9.42" height="9.42" patternTransform="translate(487.80,602.80) rotate(-40)"><rect width="9.42" height="9.42" fill="#fff"/><rect y="0" width="9.42" height="1.65" fill="#000"/><rect y="7.77" width="9.42" height="1.65" fill="#000"/></pattern></defs>
<rect x="454.60" y="552.90" width="16.30" height="245.80" fill="#c6c6c6" stroke="#2a2a2a" stroke-width="1.3"/>
<rect x="470.50" y="554.50" width="17.70" height="244.70" fill="#000"/>
<rect x="473.10" y="556.40" width="11.90" height="241.10" fill="url(#dPr307)"/>
<rect x="487.80" y="589.80" width="16.00" height="208.90" fill="url(#hPr307)" stroke="#111" stroke-width="1.2"/>
<text x="87.90" y="821.70" font-family="Liberation Serif" font-size="17.5" textLength="28.90" lengthAdjust="spacingAndGlyphs" stroke="#000" stroke-width="0.25" >IIIB</text>
<text x="161.80" y="821.70" font-family="Liberation Serif" font-size="17.5" textLength="31.00" lengthAdjust="spacingAndGlyphs" stroke="#000" stroke-width="0.25" >BaL</text>
<text x="221.90" y="821.70" font-family="Liberation Serif" font-size="17.5" textLength="63.00" lengthAdjust="spacingAndGlyphs" stroke="#000" stroke-width="0.25" >HIV89.6</text>
<text x="302.00" y="821.70" font-family="Liberation Serif" font-size="17.5" textLength="46.80" lengthAdjust="spacingAndGlyphs" stroke="#000" stroke-width="0.25" >Pr-214</text>
<text x="379.10" y="821.70" font-family="Liberation Serif" font-size="17.5" textLength="47.70" lengthAdjust="spacingAndGlyphs" stroke="#000" stroke-width="0.25" >Pr-216</text>
<text x="454.50" y="821.70" font-family="Liberation Serif" font-size="17.5" textLength="47.70" lengthAdjust="spacingAndGlyphs" stroke="#000" stroke-width="0.25" >Pr-307</text>
<text x="254.30" y="849.50" font-family="Liberation Serif" font-size="23.5" textLength="63.00" lengthAdjust="spacingAndGlyphs" stroke="#000" stroke-width="0.25" >Viruses</text>
<text transform="translate(17.9,795.0) rotate(-90)" font-family="Liberation Serif" font-size="23" textLength="267.4" lengthAdjust="spacingAndGlyphs" stroke="#000" stroke-width="0.25">% inhibition of p24 expression</text>
<rect x="403.8" y="491.8" width="10.4" height="9.6" fill="#c8c8c8" stroke="#111" stroke-width="1.4"/>
<rect x="403.5" y="508.6" width="11" height="11" fill="#000"/>
<rect x="409.1" y="510.8" width="1.8" height="1.8" fill="#fff"/><rect x="405.1" y="514.6" width="1.8" height="1.8" fill="#fff"/>
<rect x="404.5" y="527.7" width="8.9" height="8.2" fill="#fff" stroke="#000" stroke-width="1.4"/><path d="M404.5 527.7H407.8L404.5 531.1ZM413.4 535.9H409.9L413.4 532.5Z" fill="#000"/>
<text x="420.00" y="500.80" font-family="Liberation Serif" font-size="17" textLength="83.00" lengthAdjust="spacingAndGlyphs" stroke="#000" stroke-width="0.25" >gag shRNA</text>
<text x="420.40" y="518.00" font-family="Liberation Serif" font-size="17" textLength="79.50" lengthAdjust="spacingAndGlyphs" stroke="#000" stroke-width="0.25" >rev shRNA</text>
<text x="420.80" y="535.30" font-family="Liberation Serif" font-size="17" textLength="75.30" lengthAdjust="spacingAndGlyphs" stroke="#000" stroke-width="0.25" >vif shRNA</text>
</svg>
</body></html>
